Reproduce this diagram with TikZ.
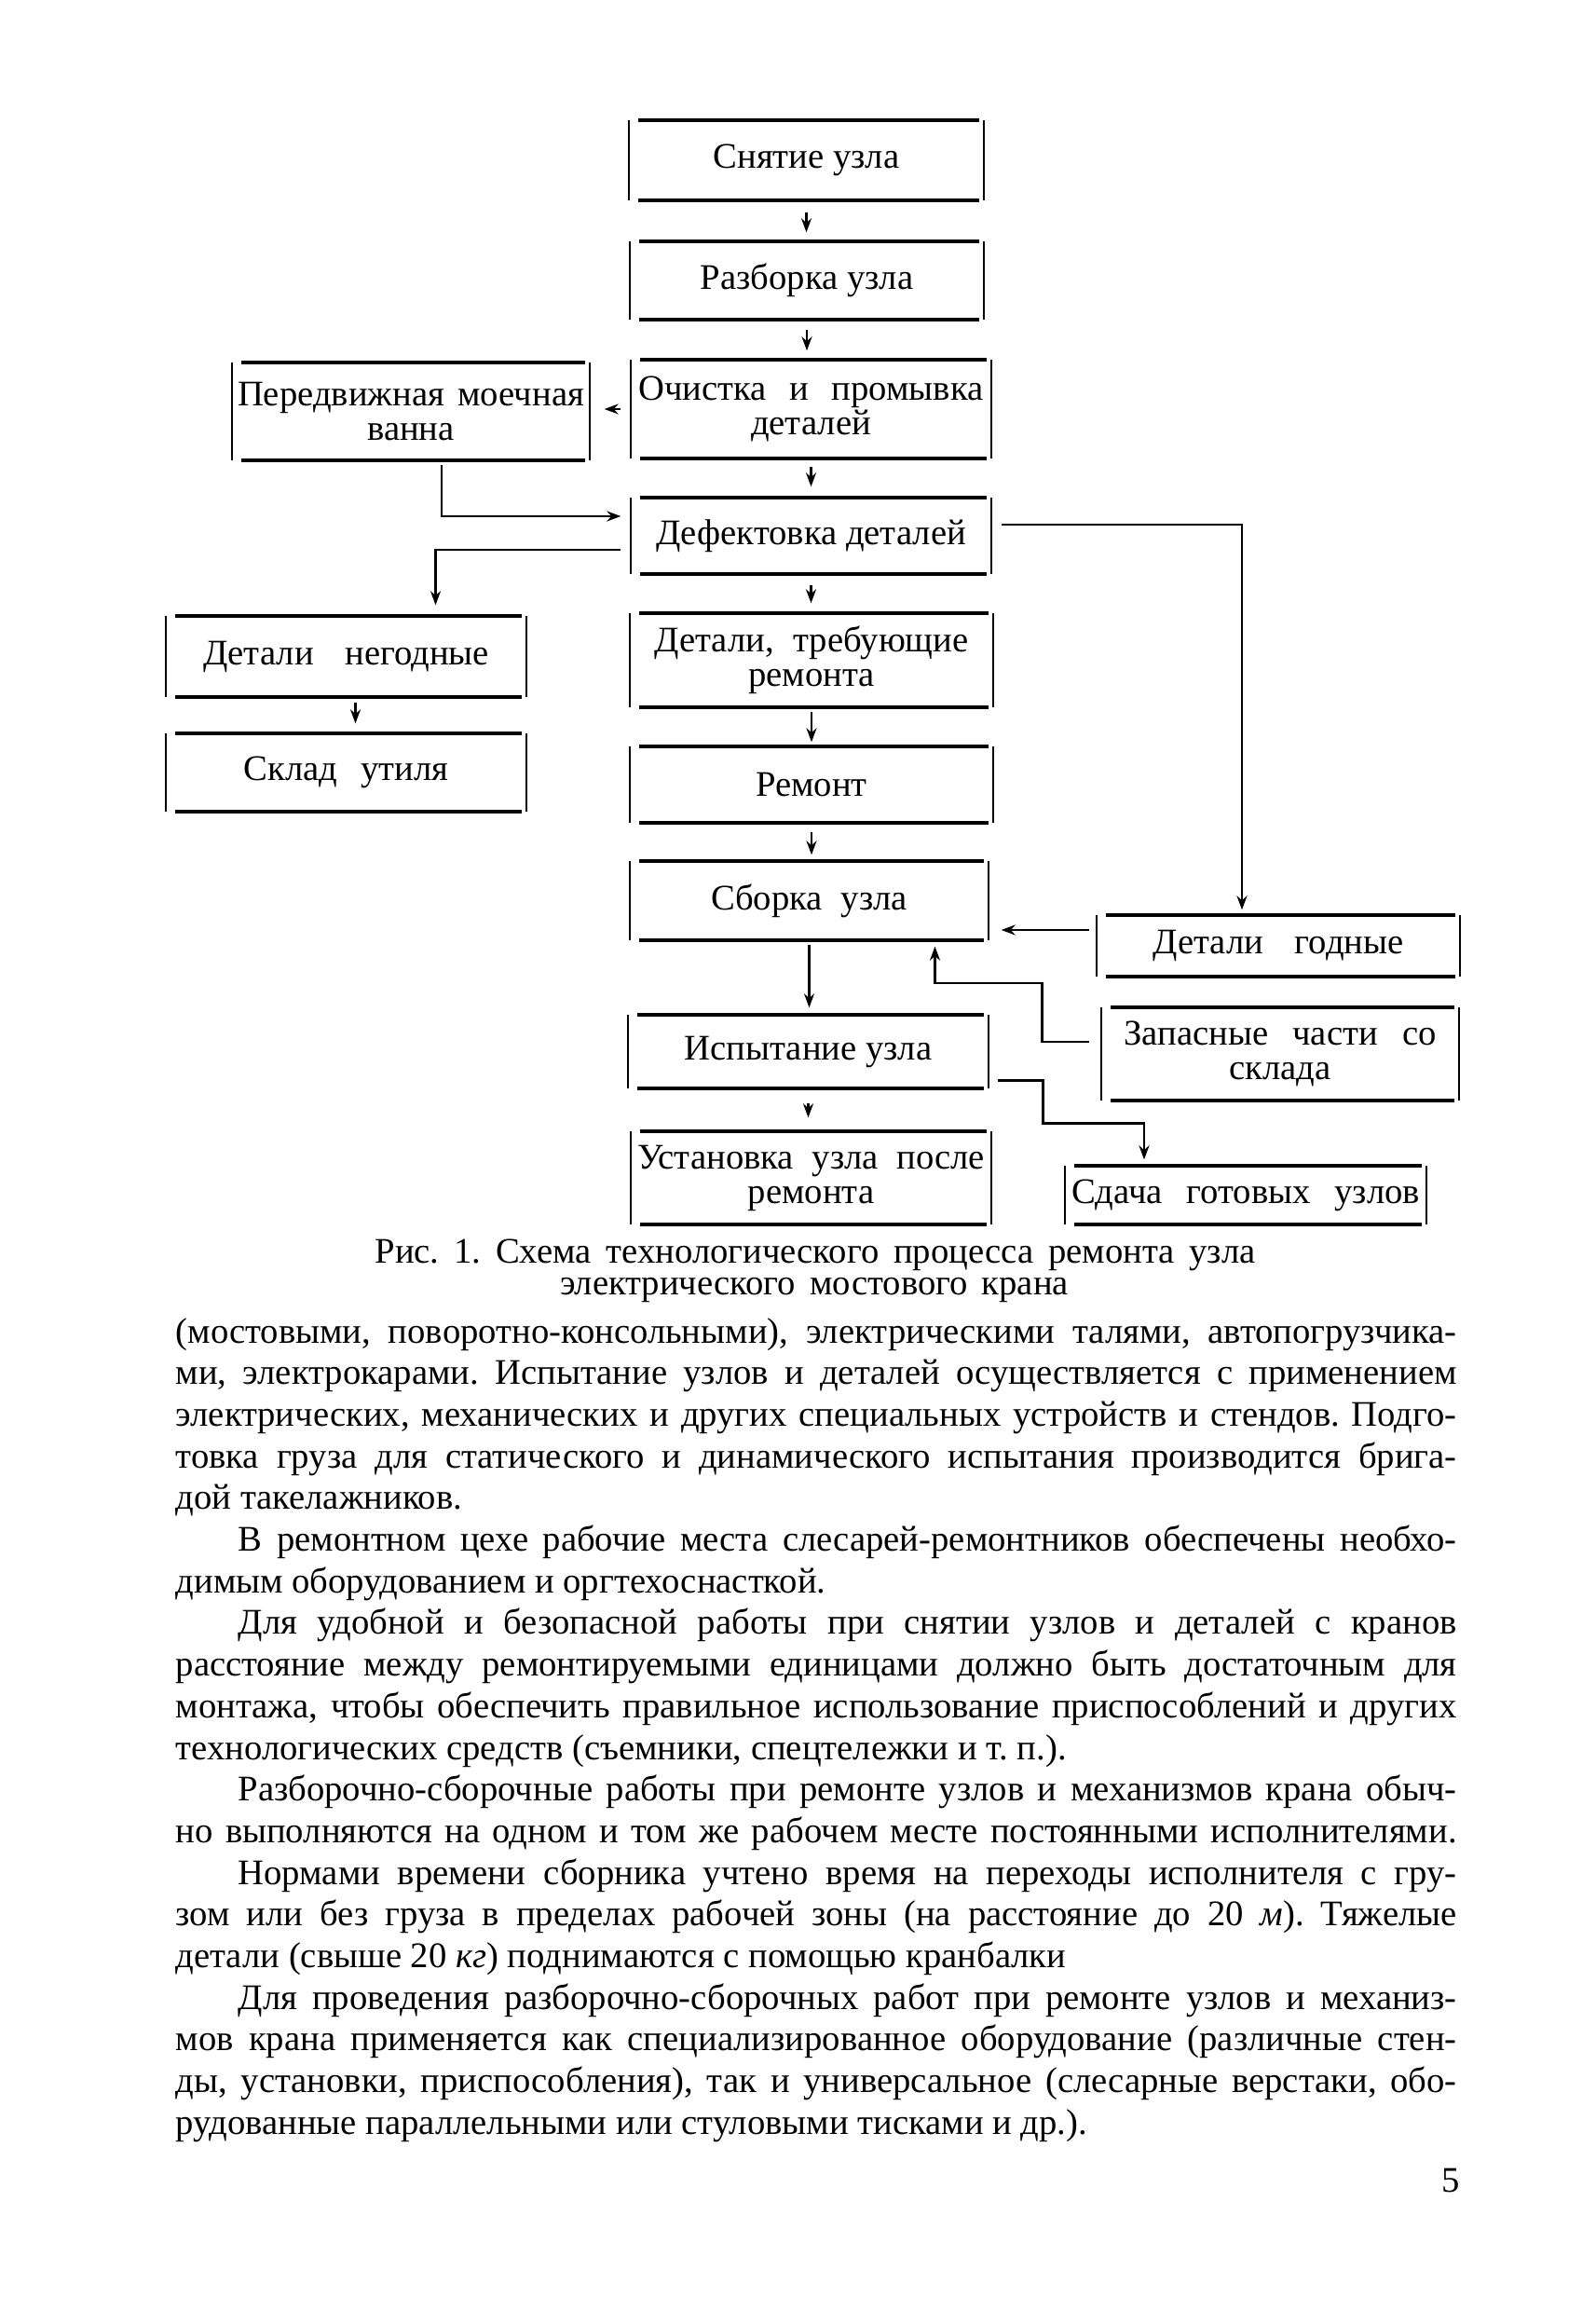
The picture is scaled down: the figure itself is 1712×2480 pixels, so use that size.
\documentclass[tikz,border=0pt]{standalone}
\usepackage{fontspec}
\setmainfont{Liberation Serif}
\usetikzlibrary{fit,calc,arrows.meta}
\frenchspacing
\tikzset{
  hl/.style={line width=1.2pt},
  vl/.style={line width=0.6pt},
  ln/.style={line width=0.8pt},
  arr/.style={line width=0.6pt,-{Stealth[length=1.5mm,width=1.1mm]}},
  boxtxt/.style={font=\fontsize{11}{10.5}\selectfont, align=center, inner sep=0pt},
  bodytxt/.style={font=\fontsize{11}{13}\selectfont, inner sep=0pt},
}
\newcommand\flowbox[6]{%
  \coordinate (#1a) at (#2,#3);
  \coordinate (#1b) at (#4,#5);
  \node[fit=(#1a)(#1b), inner sep=0pt] (#1) {};
  \node[boxtxt] (#1t) at (#1.center) {#6};
  \draw[hl] ([xshift=1mm]#1.north west) -- ([xshift=-0.5mm]#1.north east);
  \draw[hl] ([xshift=1mm]#1.south west) -- ([xshift=-0.5mm]#1.south east);
  \draw[vl] (#1.north west) -- (#1.south west);
  \draw[vl] (#1.north east) -- (#1.south east);
}
\newcommand\jline[3]{\node[bodytxt,anchor=mid west] (#1) at (188,#2) {\makebox[137.5mm][s]{#3}};}
\newcommand\iline[3]{\node[bodytxt,anchor=mid west] (#1) at (255,#2) {\makebox[130.8mm][s]{#3}};}
\newcommand\eline[3]{\node[bodytxt,anchor=mid west] (#1) at (188,#2) {#3};}
\begin{document}
\begin{tikzpicture}[x=0.1mm,y=-0.1mm]
\fill[white] (0,0) rectangle (1712,2480);
\useasboundingbox (0,0) rectangle (1712,2480);

% boxes
\flowbox{b1}{676}{130}{1055}{214}{Снятие узла}
\flowbox{b2}{677}{260}{1055}{342}{Разборка узла}
\flowbox{b3}{678}{387}{1063}{491}{\makebox[37mm][s]{Очистка и промывка}\\деталей}
\flowbox{b4}{250}{390}{632}{493}{\makebox[37.2mm][s]{Передвижная моечная}\\ванна}
\flowbox{b5}{678}{535}{1063}{615}{Дефектовка деталей}
\flowbox{b6}{179}{662}{564}{747}{\makebox[30.7mm][s]{Детали негодные}}
\flowbox{b7}{179}{788}{564}{870}{\makebox[22mm][s]{Склад утиля}}
\flowbox{b8}{677}{659}{1065}{758}{\makebox[33.7mm][s]{Детали, требующие}\\ремонта}
\flowbox{b9}{677}{802}{1065}{882}{Ремонт}
\flowbox{b10}{677}{925}{1060}{1008}{\makebox[21.1mm][s]{Сборка узла}}
\flowbox{b11}{1178}{983}{1566}{1047}{\makebox[26.9mm][s]{Детали годные}}
\flowbox{b12}{675}{1090}{1060}{1167}{Испытание узла}
\flowbox{b13}{1183}{1082}{1565}{1180}{\makebox[33.5mm][s]{Запасные части со}\\склада}
\flowbox{b14}{678}{1215}{1063}{1313}{\makebox[37.3mm][s]{Установка узла после}\\ремонта}
\flowbox{b15}{1144}{1252}{1530}{1313}{\makebox[37.4mm][s]{Сдача готовых узлов}}

% straight arrows
\draw[arr,shorten <=1.3mm,shorten >=1mm] (b1.south) -- (b1.south |- b2.north);
\draw[arr,shorten <=1.1mm,shorten >=1mm] (b2.south) -- (b2.south |- b3.north);
\draw[arr,shorten <=0.9mm,shorten >=1.2mm] (b3.south) -- (b3.south |- b5.north);
\draw[arr,shorten <=1.2mm,shorten >=1.1mm] (b5.south) -- (b5.south |- b8.north);
\draw[arr,shorten <=0.5mm,shorten >=0.5mm] (b8.south) -- (b8.south |- b9.north);
\draw[arr,shorten <=1mm,shorten >=0.7mm] (b9.south) -- (b9.south |- b10.north);
\draw[arr,shorten <=0.5mm,shorten >=0.8mm] (b10.south) -- (b10.south |- b12.north);
\draw[arr,shorten <=1.6mm,shorten >=1.5mm] (b12.south) -- (b12.south |- b14.north);
\coordinate (c6) at ($(b6.south)+(10,0)$);
\draw[arr,shorten <=0.6mm,shorten >=1.1mm] (c6) -- (c6 |- b7.north);
\draw[arr,shorten <=1.1mm,shorten >=1.6mm] (b3.west) -- (b3.west -| b4.east);

% elbow connectors
\draw[arr,ln,shorten >=1.1mm] ($(b4.south)+(33,5)$) |- ($(b5.west)+(0,-21)$);
\draw[arr,ln] ($(b5.west)+(-11,15)$) -| ($(b6.north)+(96,-12)$);
\draw[arr,ln] ($(b5.east)+(11,-12)$) -| ($(b11.north)+(-39,-6)$);
\coordinate (c1) at ($(b11.west)+(-8,-17)$);
\draw[arr,ln,shorten >=1.4mm] (c1) -- (c1 -| b10.east);
\draw[arr,ln] ($(b13.west)+(-13,-13)$) -| ($(b13.west)+(-64,-76)$) -| ($(b10.south)+(135,7)$);
\draw[arr,ln] ($(b12.east)+(10,31)$) -| ($(b12.east)+(59,77)$) -| ($(b15.north)+(-109,-7)$);

% caption
\node[bodytxt,anchor=mid] (cap1) at (875,1347) {\makebox[94.5mm][s]{Рис. 1. Схема технологического процесса ремонта узла}};
\node[bodytxt,anchor=mid] (cap2) at (874,1381) {\makebox[54.6mm][s]{электрического мостового крана}};

% body text
\jline{t1}{1433}{(мостовыми, поворотно-консольными), электрическими талями, автопогрузчика-}
\jline{t2}{1477.7}{ми, электрокарами. Испытание узлов и деталей осуществляется с применением}
\jline{t3}{1522.4}{электрических, механических и других специальных устройств и стендов. Подго-}
\jline{t4}{1567.1}{товка груза для статического и динамического испытания производится брига-}
\eline{t5}{1611.8}{дой такелажников.}
\iline{t6}{1656.5}{В ремонтном цехе рабочие места слесарей-ремонтников обеспечены необхо-}
\eline{t7}{1701.2}{димым оборудованием и оргтехоснасткой.}
\iline{t8}{1745.9}{Для удобной и безопасной работы при снятии узлов и деталей с кранов}
\jline{t9}{1790.6}{расстояние между ремонтируемыми единицами должно быть достаточным для}
\jline{t10}{1835.3}{монтажа, чтобы обеспечить правильное использование приспособлений и других}
\eline{t11}{1880}{технологических средств (съемники, спецтележки и т. п.).}
\iline{t12}{1924.7}{Разборочно-сборочные работы при ремонте узлов и механизмов крана обыч-}
\jline{t13}{1969.4}{но выполняются на одном и том же рабочем месте постоянными исполнителями.}
\iline{t14}{2014.1}{Нормами времени сборника учтено время на переходы исполнителя с гру-}
\jline{t15}{2058.8}{зом или без груза в пределах рабочей зоны (на расстояние до 20 \textit{м}). Тяжелые}
\eline{t16}{2103.5}{детали (свыше 20 \textit{кг}) поднимаются с помощью кранбалки}
\iline{t17}{2148.2}{Для проведения разборочно-сборочных работ при ремонте узлов и механиз-}
\jline{t18}{2192.9}{мов крана применяется как специализированное оборудование (различные стен-}
\jline{t19}{2237.6}{ды, установки, приспособления), так и универсальное (слесарные верстаки, обо-}
\eline{t20}{2282.3}{рудованные параллельными или стуловыми тисками и др.).}

\node[bodytxt] (pg) at (1557,2340) {5};
\end{tikzpicture}
\end{document}
